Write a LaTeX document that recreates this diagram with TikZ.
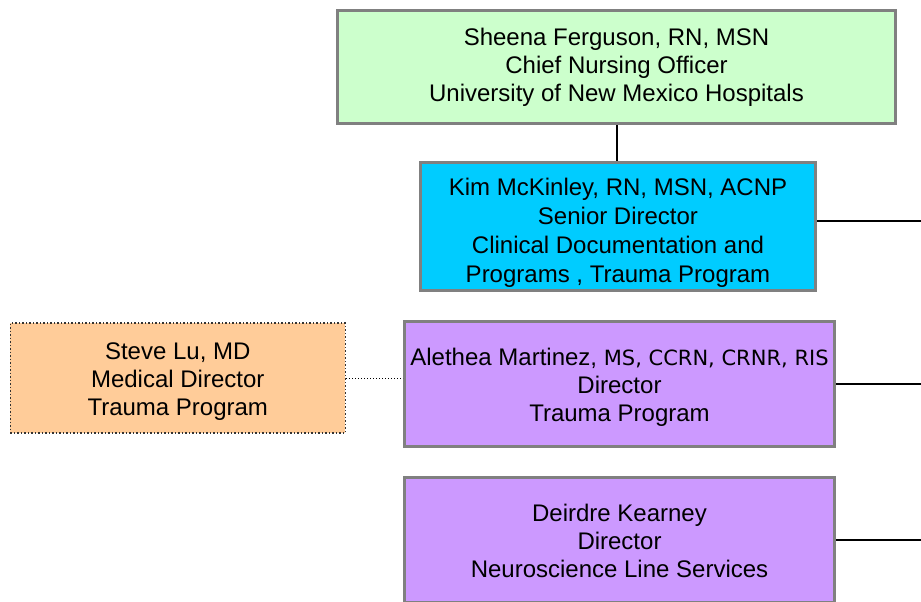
\documentclass[tikz,border=0pt]{standalone}
\usepackage{fontspec}
\setmainfont{Liberation Sans}
\newfontfamily\credfont{DejaVu Sans}
\usepackage{xcolor}
\usetikzlibrary{positioning}
\definecolor{cnogreen}{HTML}{CCFFCC}
\definecolor{sdblue}{HTML}{00CCFF}
\definecolor{dirpurple}{HTML}{CC99FF}
\definecolor{mdorange}{HTML}{FFCC99}
\definecolor{boxgray}{HTML}{808080}
\newcommand{\padtop}[1]{\rule{0pt}{#1}}

\begin{document}
\begin{tikzpicture}[
    x=1pt, y=1pt,
    node distance = 28pt and 57pt,
    box/.style = {rectangle, draw=boxgray, line width=3pt, inner sep=0pt,
                  align=center, font=\fontsize{24}{28}\selectfont},
    dirbox/.style = {box, fill=dirpurple, minimum width=430pt, minimum height=125pt},
    link/.style = {black, line width=2pt}
  ]
    \useasboundingbox (0,0) rectangle (921,-602);
    \coordinate (edge) at (921,0);
    \node[box, fill=cnogreen, minimum width=558pt, minimum height=113pt] (cno) at (616.5,-67)
        {Sheena Ferguson, RN, MSN\\Chief Nursing Officer\\University of New Mexico Hospitals};
    \node[box, fill=sdblue, minimum width=395pt, minimum height=128pt,
          font=\fontsize{24}{29}\selectfont, below=36pt of cno, xshift=1.5pt] (sd)
        {\padtop{30pt}Kim McKinley, RN, MSN, ACNP\\Senior Director\\Clinical Documentation and\\Programs , Trauma Program};
    \node[dirbox, below=of sd, xshift=1.5pt] (tpd)
        {\padtop{24pt}Alethea Martinez, {\credfont\fontsize{21}{28}\selectfont MS, CCRN, CRNR, RIS}\\Director\\Trauma Program};
    \node[dirbox, below=of tpd] (nsd)
        {\padtop{20pt}Deirdre Kearney\\Director\\Neuroscience Line Services};
    \node[box, fill=mdorange, draw=black!80, line width=1.5pt, dotted,
          minimum width=335pt, minimum height=110pt, left=of tpd, yshift=6pt] (md)
        {\padtop{24pt}Steve Lu, MD\\Medical Director\\Trauma Program};
    \draw[link] (cno.south) -- (cno.south |- sd.north);
    \draw[link] ([yshift=5.5pt]sd.east) -- ([yshift=5.5pt]sd.east -| edge);
    \draw[link] (tpd.east) -- (tpd.east -| edge);
    \draw[link] (nsd.east) -- (nsd.east -| edge);
    \draw[black, line width=1pt, dotted] (md.east) -- (md.east -| tpd.west);
  \end{tikzpicture}
\end{document}
